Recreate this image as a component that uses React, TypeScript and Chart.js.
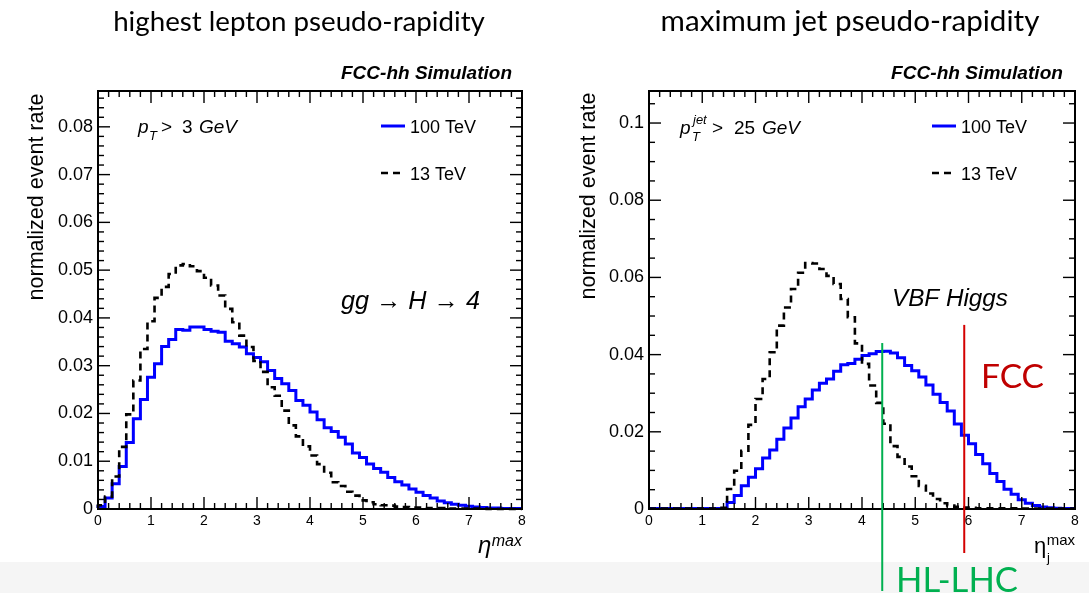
import React, { useEffect, useRef } from "react";
import { Chart, registerables } from "chart.js";

Chart.register(...registerables);

// ---------------- data ----------------
const ETA_MIN = 0;
const ETA_MAX = 8;

const xTickLabels = ["0", "1", "2", "3", "4", "5", "6", "7", "8"];
const leptonYTickLabels = ["0", "0.01", "0.02", "0.03", "0.04", "0.05", "0.06", "0.07", "0.08"];
const jetYTickLabels = ["0", "0.02", "0.04", "0.06", "0.08", "0.1"];

// highest lepton pseudo-rapidity, 60 bins in [0, 8]
const leptonEta100TeV = [
  0.0002, 0.0005, 0.0023, 0.0053, 0.0089, 0.0139, 0.0189, 0.0229, 0.0276, 0.0304,
  0.0340, 0.0355, 0.0376, 0.0374, 0.0381, 0.0381, 0.0376, 0.0372, 0.0370, 0.0351,
  0.0346, 0.0339, 0.0325, 0.0317, 0.0308, 0.0290, 0.0273, 0.0262, 0.0248, 0.0227,
  0.0217, 0.0203, 0.0187, 0.0170, 0.0162, 0.0150, 0.0136, 0.0117, 0.0108, 0.0094,
  0.0085, 0.0077, 0.0066, 0.0057, 0.0050, 0.0042, 0.0035, 0.0028, 0.0023, 0.0017,
  0.0013, 0.0010, 0.0008, 0.0006, 0.0004, 0.0003, 0.0002, 0.0002, 0.0001, 0.0001,
];
const leptonEta13TeV = [
  0.0002, 0.0008, 0.0026, 0.0068, 0.0130, 0.0198, 0.0269, 0.0335, 0.0393, 0.0442,
  0.0465, 0.0492, 0.0510, 0.0513, 0.0508, 0.0498, 0.0484, 0.0468, 0.0447, 0.0419,
  0.0391, 0.0363, 0.0339, 0.0310, 0.0287, 0.0255, 0.0237, 0.0206, 0.0175, 0.0152,
  0.0131, 0.0112, 0.0094, 0.0076, 0.0056, 0.0048, 0.0036, 0.0028, 0.0018, 0.0014,
  0.0010, 0.0008, 0.0007, 0.0005, 0.0004, 0.0003, 0.0003, 0.0002, 0.0002, 0.0002,
  0.0001, 0.0001, 0.0001, 0.0001, 0.0001, 0.0001, 0.0000, 0.0000, 0.0000, 0.0000,
];

// maximum jet pseudo-rapidity, 60 bins in [0, 8]
const jetEta100TeV = [
  0.0001, 0.0001, 0.0001, 0.0001, 0.0001, 0.0001, 0.0001, 0.0001, 0.0001, 0.0001,
  0.0001, 0.0001, 0.0017, 0.0035, 0.0060, 0.0082, 0.0104, 0.0132, 0.0153, 0.0181,
  0.0210, 0.0236, 0.0265, 0.0285, 0.0308, 0.0326, 0.0337, 0.0357, 0.0374, 0.0377,
  0.0388, 0.0398, 0.0402, 0.0408, 0.0409, 0.0404, 0.0392, 0.0372, 0.0358, 0.0342,
  0.0321, 0.0297, 0.0276, 0.0254, 0.0220, 0.0191, 0.0169, 0.0141, 0.0117, 0.0092,
  0.0071, 0.0051, 0.0038, 0.0024, 0.0015, 0.0009, 0.0005, 0.0003, 0.0002, 0.0001,
];
const jetEta13TeV = [
  0.0001, 0.0001, 0.0001, 0.0001, 0.0001, 0.0001, 0.0001, 0.0001, 0.0001, 0.0001,
  0.0001, 0.0003, 0.0052, 0.0099, 0.0151, 0.0218, 0.0285, 0.0337, 0.0406, 0.0475,
  0.0522, 0.0570, 0.0612, 0.0637, 0.0636, 0.0622, 0.0604, 0.0583, 0.0544, 0.0497,
  0.0429, 0.0376, 0.0320, 0.0275, 0.0221, 0.0163, 0.0135, 0.0110, 0.0085, 0.0060,
  0.0040, 0.0026, 0.0015, 0.0009, 0.0006, 0.0004, 0.0003, 0.0002, 0.0002, 0.0002,
  0.0002, 0.0002, 0.0002, 0.0001, 0.0001, 0.0001, 0.0001, 0.0001, 0.0001, 0.0001,
];

// detector acceptance markers (eta values)
const HL_LHC_ETA = 4.38;
const FCC_ETA = 5.92;

// ---------------- helpers ----------------
const LIB = '"Liberation Sans", Arial, Helvetica, sans-serif';
const TITLE_FONT = 'Lato, "Open Sans", sans-serif';

function stepPoints(vals: number[]) {
  const w = (ETA_MAX - ETA_MIN) / vals.length;
  const pts = vals.map((v, i) => ({ x: ETA_MIN + i * w, y: v }));
  pts.push({ x: ETA_MAX, y: vals[vals.length - 1] });
  return pts;
}

function line(ctx: CanvasRenderingContext2D, x1: number, y1: number, x2: number, y2: number) {
  ctx.beginPath();
  ctx.moveTo(x1, y1);
  ctx.lineTo(x2, y2);
  ctx.stroke();
}

function text(
  ctx: CanvasRenderingContext2D,
  t: string,
  x: number,
  y: number,
  font: string,
  color = "#000",
  align: CanvasTextAlign = "left",
  baseline: CanvasTextBaseline = "alphabetic"
) {
  ctx.font = font;
  ctx.fillStyle = color;
  ctx.textAlign = align;
  ctx.textBaseline = baseline;
  ctx.fillText(t, x, y);
}

function fitText(
  ctx: CanvasRenderingContext2D,
  t: string,
  x: number,
  y: number,
  style: string,
  family: string,
  width: number,
  color = "#000",
  align: CanvasTextAlign = "left",
  baseline: CanvasTextBaseline = "alphabetic"
) {
  ctx.font = `${style} 100px ${family}`;
  const w = ctx.measureText(t).width;
  const size = (100 * width) / w;
  text(ctx, t, x, y, `${style} ${size}px ${family}`, color, align, baseline);
}

type Panel = {
  id: string;
  v100: number[];
  v13: number[];
  yMax: number;
  yStep: number;
  yMinor: number;
  yLabels: string[];
  area: { left: number; right: number; top: number; bottom: number };
  decorate: (ctx: CanvasRenderingContext2D, chart: any) => void;
};

function framePlugin(p: Panel) {
  return {
    id: "frame_" + p.id,
    afterDraw(chart: any) {
      const ctx: CanvasRenderingContext2D = chart.ctx;
      const a = chart.chartArea;
      const xs = chart.scales.x;
      const ys = chart.scales.y;
      ctx.save();
      ctx.strokeStyle = "#000";
      ctx.setLineDash([]);
      // ticks
      ctx.lineWidth = 1.4;
      const nx = Math.round((ETA_MAX - ETA_MIN) / 0.2);
      for (let i = 0; i <= nx; i++) {
        const X = xs.getPixelForValue(ETA_MIN + i * 0.2);
        const len = i % 5 === 0 ? 12 : 6;
        line(ctx, X, a.bottom, X, a.bottom - len);
        line(ctx, X, a.top, X, a.top + len);
      }
      const ratio = Math.round(p.yStep / p.yMinor);
      const ny = Math.floor(p.yMax / p.yMinor + 1e-6);
      for (let i = 0; i <= ny; i++) {
        const Y = ys.getPixelForValue(i * p.yMinor);
        const len = i % ratio === 0 ? 12 : 6;
        line(ctx, a.left, Y, a.left + len, Y);
        line(ctx, a.right, Y, a.right - len, Y);
      }
      // frame
      ctx.lineWidth = 2;
      ctx.strokeRect(a.left, a.top, a.right - a.left, a.bottom - a.top);
      p.decorate(ctx, chart);
      ctx.restore();
    },
  };
}

function legend(ctx: CanvasRenderingContext2D, x: number, y1: number, y2: number) {
  ctx.save();
  ctx.strokeStyle = "#0000ff";
  ctx.lineWidth = 3;
  ctx.setLineDash([]);
  line(ctx, x, y1, x + 24, y1);
  ctx.strokeStyle = "#000";
  ctx.lineWidth = 2.6;
  ctx.setLineDash([7, 5]);
  line(ctx, x, y2, x + 20, y2);
  ctx.restore();
  text(ctx, "100 TeV", x + 29, y1 + 6.5, `18px ${LIB}`);
  text(ctx, "13 TeV", x + 29, y2 + 6.5, `18px ${LIB}`);
}

function yTitle(ctx: CanvasRenderingContext2D, cx: number, cy: number) {
  ctx.save();
  ctx.translate(cx, cy);
  ctx.rotate(-Math.PI / 2);
  fitText(ctx, "normalized event rate", 0, 0, "", LIB, 207, "#000", "center", "middle");
  ctx.restore();
}

const leftPanel: Panel = {
  id: "lepton",
  v100: leptonEta100TeV,
  v13: leptonEta13TeV,
  yMax: 0.0875,
  yStep: 0.01,
  yMinor: 0.002,
  yLabels: leptonYTickLabels,
  area: { left: 98, right: 522, top: 91, bottom: 509 },
  decorate(ctx) {
    fitText(ctx, "highest lepton pseudo-rapidity", 299, 31, "", TITLE_FONT, 372, "#000", "center");
    fitText(ctx, "FCC-hh Simulation", 512, 79, "italic bold", LIB, 171, "#000", "right");
    yTitle(ctx, 37, 197);
    // x title
    text(ctx, "max", 522, 546, `italic 16px ${LIB}`, "#000", "right");
    text(ctx, "\u03b7", 478, 553, `italic 24px ${LIB}`);
    legend(ctx, 381, 126, 173);
    // pT cut
    text(ctx, "p", 138, 133, `italic 19px ${LIB}`);
    text(ctx, "T", 149, 140, `italic 13px ${LIB}`);
    text(ctx, ">", 161, 133, `19px ${LIB}`);
    text(ctx, "3", 182, 133, `19px ${LIB}`);
    text(ctx, "GeV", 199, 133, `italic 19px ${LIB}`);
    // process
    fitText(ctx, "gg \u2192 H \u2192 4", 341, 309, "italic", LIB, 139);
  },
};

const rightPanel: Panel = {
  id: "jet",
  v100: jetEta100TeV,
  v13: jetEta13TeV,
  yMax: 0.1083,
  yStep: 0.02,
  yMinor: 0.005,
  yLabels: jetYTickLabels,
  area: { left: 649, right: 1075, top: 91, bottom: 509 },
  decorate(ctx, chart) {
    fitText(ctx, "maximum jet pseudo-rapidity", 850, 31, "", TITLE_FONT, 379, "#000", "center");
    fitText(ctx, "FCC-hh Simulation", 1063, 79, "italic bold", LIB, 172, "#000", "right");
    yTitle(ctx, 589, 196);
    // x title
    text(ctx, "max", 1075, 545, `15px ${LIB}`, "#000", "right");
    text(ctx, "\u03b7", 1034, 553, `22px ${LIB}`);
    text(ctx, "j", 1047, 562, `13px ${LIB}`);
    legend(ctx, 932, 126, 173);
    // pT jet cut
    text(ctx, "p", 680, 134, `italic 19px ${LIB}`);
    text(ctx, "jet", 693, 124, `italic 13px ${LIB}`);
    text(ctx, "T", 692, 141, `italic 13px ${LIB}`);
    text(ctx, ">", 712, 134, `19px ${LIB}`);
    text(ctx, "25", 734, 134, `19px ${LIB}`);
    text(ctx, "GeV", 762, 134, `italic 19px ${LIB}`);
    fitText(ctx, "VBF Higgs", 892, 306, "italic", LIB, 116);

    // acceptance lines
    const xs = chart.scales.x;
    const ys = chart.scales.y;
    const a = chart.chartArea;
    ctx.save();
    ctx.setLineDash([]);
    ctx.lineWidth = 2;
    ctx.strokeStyle = "#00b050";
    const gx = xs.getPixelForValue(HL_LHC_ETA);
    line(ctx, gx, ys.getPixelForValue(0.043), gx, a.bottom + 82);
    ctx.strokeStyle = "#d40000";
    const rx = xs.getPixelForValue(FCC_ETA);
    line(ctx, rx, ys.getPixelForValue(0.0477), rx, a.bottom + 44);
    ctx.restore();
    fitText(ctx, "FCC", 981, 388, "", TITLE_FONT, 63, "#c00000");
    fitText(ctx, "HL-LHC", 896, 592, "", TITLE_FONT, 122, "#00b050");
  },
};

function makeConfig(p: Panel): any {
  const Y_AXIS_W = 60;
  const X_AXIS_H = 30;
  return {
    type: "line",
    data: {
      datasets: [
        {
          label: "13 TeV",
          data: stepPoints(p.v13),
          borderColor: "#000",
          borderWidth: 2.6,
          borderDash: [7, 5],
          stepped: "after",
          pointRadius: 0,
          fill: false,
          clip: 4,
        },
        {
          label: "100 TeV",
          data: stepPoints(p.v100),
          borderColor: "#0000ff",
          borderWidth: 3,
          stepped: "after",
          pointRadius: 0,
          fill: false,
          clip: 4,
        },
      ],
    },
    options: {
      responsive: false,
      animation: false,
      devicePixelRatio: 1,
      events: [],
      layout: {
        padding: {
          left: p.area.left - Y_AXIS_W,
          right: 1089 - p.area.right,
          top: p.area.top,
          bottom: 593 - p.area.bottom - X_AXIS_H,
        },
      },
      plugins: { legend: { display: false }, tooltip: { enabled: false }, title: { display: false } },
      scales: {
        x: {
          type: "linear",
          min: ETA_MIN,
          max: ETA_MAX,
          grid: { display: false, drawTicks: false },
          border: { display: false },
          ticks: {
            stepSize: 1,
            autoSkip: false,
            maxRotation: 0,
            includeBounds: false,
            padding: 4,
            color: "#000",
            font: { family: LIB, size: 14 },
            callback: (v: number) => xTickLabels[Math.round(v)] ?? "",
          },
          afterFit: (s: any) => {
            s.height = X_AXIS_H;
          },
        },
        y: {
          type: "linear",
          min: 0,
          max: p.yMax,
          grid: { display: false, drawTicks: false },
          border: { display: false },
          ticks: {
            stepSize: p.yStep,
            includeBounds: false,
            autoSkip: false,
            padding: 5,
            color: "#000",
            font: { family: LIB, size: 18 },
            callback: (v: number) => p.yLabels[Math.round(v / p.yStep)] ?? "",
          },
          afterFit: (s: any) => {
            s.width = Y_AXIS_W;
          },
        },
      },
    },
    plugins: [framePlugin(p)],
  };
}

export default function App() {
  const leftRef = useRef<HTMLCanvasElement>(null);
  const rightRef = useRef<HTMLCanvasElement>(null);

  useEffect(() => {
    const c1 = new Chart(leftRef.current as HTMLCanvasElement, makeConfig(leftPanel));
    const c2 = new Chart(rightRef.current as HTMLCanvasElement, makeConfig(rightPanel));
    return () => {
      c1.destroy();
      c2.destroy();
    };
  }, []);

  const canvasStyle: React.CSSProperties = { position: "absolute", left: 0, top: 0, width: 1089, height: 593 };
  return (
    <div
      style={{
        position: "fixed",
        left: 0,
        top: 0,
        width: 1089,
        height: 593,
        overflow: "hidden",
        background: "#ffffff",
      }}
    >
      <div style={{ position: "absolute", left: 0, top: 562, width: 1089, height: 31, background: "#f5f5f5" }} />
      <canvas ref={leftRef} width={1089} height={593} style={canvasStyle} />
      <canvas ref={rightRef} width={1089} height={593} style={canvasStyle} />
    </div>
  );
}
